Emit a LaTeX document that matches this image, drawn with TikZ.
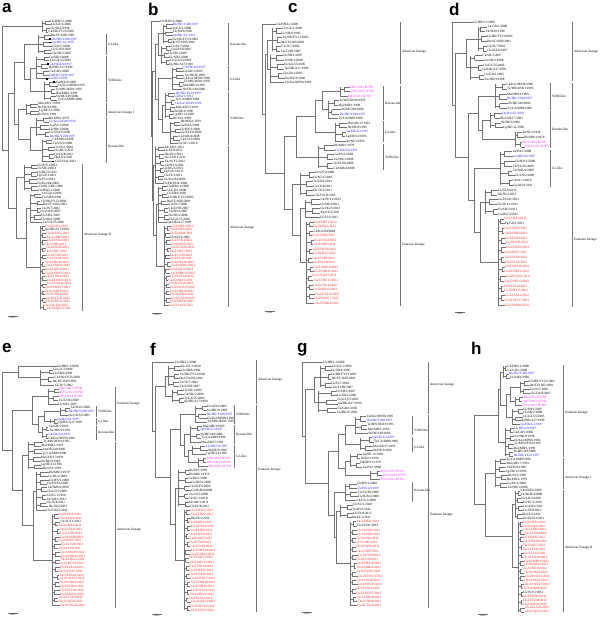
\documentclass[tikz,border=0pt]{standalone}
\usepackage{fontspec}
\setmainfont{Liberation Serif}
\newfontfamily\lettersf{Liberation Sans}
\usetikzlibrary{calc}

\definecolor{cK}{RGB}{0,0,0}
\definecolor{cB}{RGB}{40,40,225}
\definecolor{cR}{RGB}{245,35,35}
\definecolor{cM}{RGB}{235,45,235}
\definecolor{brgray}{RGB}{115,115,115}

\tikzset{
  br/.style={draw=brgray, line width=0.28pt},
  bar/.style={draw=brgray, line width=0.35pt},
  leaf/.style={anchor=west, inner sep=0.25pt, font=\fontsize{3.3}{3.5}\selectfont},
  clab/.style={anchor=west, inner sep=0.3pt, font=\fontsize{3.4}{4}\selectfont},
  plab/.style={anchor=north west, inner sep=0pt, font=\fontsize{17}{17}\selectfont\lettersf\bfseries},
  sqmark/.style={fill=black, minimum size=1.8pt, inner sep=0pt, draw=none},
}

% strain names, one pool for each label colour
\newcount\nK \newcount\nB \newcount\nR \newcount\nM
\def\sizeK{40} \def\sizeB{6} \def\sizeR{26} \def\sizeM{3}
\def\nameK#1{\ifcase#1\relax Ck/HB/L1/2000\or Ck/GX/1/2000\or Ck/SD/6/1996\or Ck/HK/FY23/2003\or
  Dk/ST/1605/2001\or Ck/JS/7/2002\or Ck/ZJ/HJ/2007\or Ck/SH/1/2007\or Ck/SD/2/2008\or
  Ck/GX/55/2005\or Qa/HK/A17/1999\or Ck/GD/1/2005\or Sw/HK/9/1998\or Ck/Kor/MS96/1996\or
  Ty/MN/38391/1995\or Mal/MD/1/1999\or Sb/DE/249/2006\or Ty/CA/6889/1980\or Mal/AB/17/1991\or
  Sb/DE/9/1996\or Lg/DE/12/1996\or Rt/NJ/1/1999\or Dk/MN/1/1979\or Gs/PA/1/2000\or
  Ck/HN/1/2008\or Ck/SX/F6/2009\or Ck/HeB/4/2008\or Ck/LN/2/2000\or Ck/SC/1/2010\or
  Ck/AH/1/2011\or Ck/JX/8/2012\or Dk/JX/2/2011\or Ck/ZJ/611/2011\or Ck/JS/Y1/2012\or
  Ck/SH/3/2011\or Ck/DG/3/2012\or Pg/GX/1/2011\or Ck/FJ/2/2012\or Ck/Kor/04/2004\or
  Ck/PK/UDL/2006\fi}
\def\nameB#1{\ifcase#1\relax Dk/HK/Y280/1997\or Qa/HK/G1/1997\or Ck/HK/G9/1997\or
  Dk/HK/Y439/1997\or Ck/BJ/1/1994\or Ck/Kor/38349/1996\fi}
\def\nameM#1{\ifcase#1\relax SH/1/2013 H7N9\or AH/1/2013 H7N9\or SH/2/2013 H7N9\fi}
\def\nameR#1{\ifcase#1\relax Ck/ZJ/HZ1/2012\or Ck/ZJ/HZ2/2012\or Ck/ZJ/NB3/2011\or
  Ck/ZJ/SX4/2012\or Ck/ZJ/JH5/2012\or Ck/ZJ/WZ6/2011\or Ck/ZJ/HZ7/2012\or Ck/ZJ/TZ8/2012\or
  Ck/ZJ/LS9/2011\or Ck/ZJ/HZ10/2012\or Ck/ZJ/NB11/2012\or Ck/ZJ/QZ12/2011\or Ck/ZJ/HU13/2012\or
  Ck/ZJ/JX14/2012\or Ck/ZJ/HZ15/2011\or Ck/ZJ/SX16/2012\or Ck/ZJ/WZ17/2012\or Ck/ZJ/NB18/2012\or
  Ck/ZJ/JH19/2011\or Ck/ZJ/TZ20/2012\or Ck/ZJ/HZ21/2012\or Ck/ZJ/LS22/2012\or Ck/ZJ/QZ23/2011\or
  Ck/ZJ/HU24/2012\or Ck/ZJ/JX25/2012\or Ck/ZJ/HZ26/2012\fi}
\newcommand{\newpanel}[1]{\def\rowgap{#1}\global\nK=0 \global\nB=0 \global\nR=0 \global\nM=0 }

% one leaf: name, x, y, colour code
\newcommand{\leaf}[4]{%
  \pgfmathtruncatemacro\ix{mod(\the\csname n#4\endcsname,\csname size#4\endcsname)}%
  \node[leaf,text=c#4] (#1) at (#2,#3) {\csname name#4\endcsname{\ix}};%
  \global\advance\csname n#4\endcsname by 1\relax}

% one clade: name, root x, tip x, top y, leaves, colour, other colour, leaves in other colour
\newcommand{\clade}[8]{%
  \coordinate (#1) at (#2,{#4+(#5-1)*\rowgap/2});
  \draw[br] (#2,#4) -- (#2,{#4+(#5-1)*\rowgap});
  \foreach \k in {1,...,#5}{
    \gdef\lc{#6}%
    \foreach \ai in {#8}{\ifnum\ai=\k\relax\gdef\lc{#7}\fi}%
    \pgfmathsetmacro\yy{#4+(\k-1)*\rowgap}
    \pgfmathsetmacro\tx{#3+3*rnd}
    \leaf{#1-\k}{\tx}{\yy}{\lc}
    \ifodd\k\relax
      \ifnum\k=#5\relax \draw[br] (#2,\yy) -- (#1-\k.west); \fi
    \else
      \pgfmathtruncatemacro\kp{\k-1}
      \pgfmathsetmacro\cxx{#2+(0.35+0.45*rnd)*(#3-#2)}
      \pgfmathsetmacro\yp{\yy-\rowgap}
      \draw[br] (#2,{\yy-\rowgap/2}) -- (\cxx,{\yy-\rowgap/2});
      \draw[br] (\cxx,\yp) -- (\cxx,\yy);
      \draw[br] (\cxx,\yp) -- (#1-\kp.west);
      \draw[br] (\cxx,\yy) -- (#1-\k.west);
    \fi
  }}

% inner node: name, x, child 1, child 2
\newcommand{\fork}[4]{%
  \path (#3) -- (#4) coordinate[pos=0.5] (#1-m);
  \path let \p1=(#1-m) in coordinate (#1) at (#2pt,\y1);
  \draw[br] (#1) |- (#3);
  \draw[br] (#1) |- (#4);}

% clade bar: name, x, y from, y to, label y, label
\newcommand{\clbar}[6]{%
  \draw[bar] (#2,#3) -- (#2,#4);
  \node[clab] (#1) at ({#2+1.5},#5) {#6};}

% scale bar: name, x, y
\newcommand{\sbar}[3]{%
  \draw[bar] (#2,#3) -- ({#2+10},#3);
  \node[clab, anchor=north, font=\fontsize{2.8}{3}\selectfont] (#1) at ({#2+5},{#3+0.5}) {0.01};}

\begin{document}
\begin{tikzpicture}[x=1pt, y=-1pt]
\pgfmathsetseed{11}
\fill[white] (0,0) rectangle (600,618);
\useasboundingbox (0,0) rectangle (600,618);

% panel letters
\foreach \p/\x/\y in {a/2/3, b/148/3, c/288/3, d/449/3, e/2/343, f/150/343, g/297/343, h/471/342}
  \node[plab] (l-\p) at (\x,\y) {\p};

% a
\newpanel{3.6}
\clade{a-g0}{42}{48}{21}{4}{K}{K}{0}
\clade{a-g1}{38}{50}{35.4}{6}{K}{B}{2,3}
\clade{a-g2a}{36}{47}{57}{7}{K}{B}{3,6,7}
\clade{a-g2b}{44}{55}{82.2}{6}{K}{K}{0}
\clade{a-g3}{26}{37}{103.8}{4}{K}{K}{0}
\clade{a-g4a}{36}{48}{118.2}{6}{K}{B}{2,6}
\clade{a-g4b}{42}{52}{139.8}{7}{K}{K}{0}
\clade{a-g5a}{24}{36}{165}{8}{K}{K}{0}
\clade{a-g5b}{30}{40}{193.8}{9}{K}{K}{0}
\clade{a-g6}{40}{44}{226.2}{24}{R}{K}{2}
\fork{a-n1}{30}{a-g2a}{a-g2b}
\fork{a-n2}{24}{a-g1}{a-n1}
\fork{a-n3}{30}{a-g4a}{a-g4b}
\fork{a-n4}{18}{a-g3}{a-n3}
\fork{a-n5}{14}{a-n2}{a-n4}
\fork{a-n6}{26}{a-g5b}{a-g6}
\fork{a-n7}{16}{a-g5a}{a-n6}
\fork{a-n8}{8}{a-n5}{a-n7}
\fork{a-n9}{2}{a-g0}{a-n8}
\foreach \q [count=\i] in {a-g1-2,a-g1-3,a-g2a-3,a-g2a-7,a-g2b-1,a-g4b-7}
  \node[sqmark, anchor=east] (a-q\i) at ([xshift=-0.4pt]\q.west) {};
\clbar{a-c1}{106}{34}{55}{44}{G1-like}
\clbar{a-c2}{106}{56.5}{102}{80}{Y280-like}
\clbar{a-c3}{106}{103}{117}{113}{American lineage I}
\clbar{a-c4}{106}{118}{163}{146}{Korean-like}
\clbar{a-c5}{82}{164}{311}{235}{American lineage II}
\sbar{a-s}{8}{316}

% b
\newpanel{3.6}
\clade{b-g0}{154}{160}{21}{1}{K}{K}{0}
\clade{b-g1a}{163}{170}{24.6}{6}{K}{B}{1,4}
\clade{b-g1b}{161}{168}{46.2}{6}{K}{K}{0}
\clade{b-g2}{172}{182}{67.8}{7}{K}{B}{1}
\clade{b-g3a}{165}{173}{93}{8}{K}{B}{1,2,4}
\clade{b-g3b}{170}{178}{121.8}{7}{K}{K}{0}
\clade{b-g4a}{155}{162}{147}{11}{K}{K}{0}
\clade{b-g4b}{158}{166}{186.6}{11}{K}{K}{0}
\clade{b-g5}{164}{168}{226.2}{23}{R}{K}{4}
\fork{b-n1}{158}{b-g1a}{b-g1b}
\fork{b-n2}{162}{b-g3a}{b-g3b}
\fork{b-n3}{158}{b-g2}{b-n2}
\fork{b-n4}{155}{b-n1}{b-n3}
\fork{b-n5}{156}{b-g4b}{b-g5}
\fork{b-n6}{153}{b-g4a}{b-n5}
\fork{b-n7}{152}{b-n4}{b-n6}
\fork{b-n8}{151}{b-g0}{b-n7}
\clbar{b-c1}{228}{23}{65}{44}{Korean-like}
\clbar{b-c2}{228}{66}{91}{79}{G1-like}
\clbar{b-c3}{228}{92}{145}{118}{Y280-like}
\clbar{b-c4}{228}{146}{307}{228}{American lineage}
\sbar{b-s}{152}{313}

% c
\newpanel{4.5}
\clade{c-g0a}{268}{276}{24}{1}{K}{K}{0}
\clade{c-g0b}{272}{280}{28.5}{6}{K}{K}{0}
\clade{c-g0c}{270}{282}{55.5}{7}{K}{K}{0}
\clade{c-g1a}{340}{347}{87}{3}{M}{M}{0}
\clade{c-g1b}{328}{338}{100.5}{5}{K}{B}{4}
\clade{c-g2}{335}{345}{123}{5}{K}{B}{3}
\clade{c-g3}{318}{332}{145.5}{6}{K}{B}{2}
\clade{c-g4a}{300}{312}{172.5}{6}{K}{K}{0}
\clade{c-g4b}{305}{318}{199.5}{5}{K}{K}{0}
\clade{c-g5}{306}{312}{222}{19}{R}{K}{3}
\fork{c-n1}{322}{c-g1a}{c-g1b}
\fork{c-n2}{315}{c-n1}{c-g2}
\fork{c-n3}{296}{c-n2}{c-g3}
\fork{c-n4}{300}{c-g4b}{c-g5}
\fork{c-n5}{292}{c-g4a}{c-n4}
\fork{c-n6}{284}{c-n3}{c-n5}
\fork{c-n7}{267}{c-g0b}{c-g0c}
\fork{c-n8}{265}{c-n7}{c-n6}
\fork{c-n9}{262}{c-g0a}{c-n8}
\clbar{c-c1}{383}{86}{120}{103}{Korean-like}
\clbar{c-c2}{383}{121}{142}{132}{G1-like}
\clbar{c-c3}{383}{144}{170}{157}{Y280-like}
\clbar{c-c4}{400}{22}{84}{52}{American lineage}
\clbar{c-c5}{400}{86}{306}{245}{Eurasian lineage}
\sbar{c-s}{265}{311}

% d
\newpanel{4.8}
\clade{d-g0a}{460}{472}{22}{1}{K}{K}{0}
\clade{d-g0b}{478}{485}{26.8}{6}{K}{K}{0}
\clade{d-g0c}{470}{482}{55.6}{6}{K}{K}{0}
\clade{d-g1}{495}{505}{84.4}{6}{K}{B}{4}
\clade{d-g2a}{490}{500}{113.2}{4}{K}{B}{1}
\clade{d-g2b}{515}{522}{132.4}{4}{K}{M}{3,4}
\clade{d-g3}{500}{512}{151.6}{8}{K}{B}{2}
\clade{d-g4}{485}{495}{190}{6}{K}{K}{0}
\clade{d-g5}{498}{503}{218.8}{19}{R}{K}{2}
\fork{d-n1}{482}{d-g2a}{d-g2b}
\fork{d-n2}{478}{d-g1}{d-n1}
\fork{d-n3}{480}{d-g4}{d-g5}
\fork{d-n4}{474}{d-g3}{d-n3}
\fork{d-n5}{468}{d-n2}{d-n4}
\fork{d-n6}{466}{d-g0b}{d-g0c}
\fork{d-n7}{455}{d-n6}{d-n5}
\fork{d-n8}{452}{d-g0a}{d-n7}
\clbar{d-c1}{550}{83}{110}{96}{Y280-like}
\clbar{d-c2}{550}{111}{148}{129}{Korean-like}
\clbar{d-c3}{550}{150}{187}{168}{G1-like}
\clbar{d-c4}{572}{22}{81}{52}{American lineage}
\clbar{d-c5}{572}{83}{307}{240}{Eurasian lineage}
\sbar{d-s}{455}{312}

% e
\newpanel{3.8}
\clade{e-g0a}{30}{55}{366}{1}{K}{K}{0}
\clade{e-g0b}{40}{52}{369.8}{5}{K}{K}{0}
\clade{e-g1}{48}{57}{388.8}{5}{M}{K}{4,5}
\clade{e-g2}{60}{68}{407.8}{3}{K}{B}{2}
\clade{e-g3}{50}{56}{419.2}{2}{K}{B}{1}
\clade{e-g4}{42}{48}{426.8}{4}{K}{B}{3}
\clade{e-g5a}{28}{40}{442}{8}{K}{K}{0}
\clade{e-g5b}{36}{46}{472.4}{11}{K}{K}{0}
\clade{e-g6}{52}{58}{514.2}{25}{R}{K}{3}
\fork{e-n1}{44}{e-g2}{e-g3}
\fork{e-n2}{38}{e-n1}{e-g4}
\fork{e-n3}{32}{e-g1}{e-n2}
\fork{e-n4}{33}{e-g5b}{e-g6}
\fork{e-n5}{22}{e-g5a}{e-n4}
\fork{e-n6}{12}{e-n3}{e-n5}
\fork{e-n7}{18}{e-g0a}{e-g0b}
\fork{e-n8}{2}{e-n7}{e-n6}
\clbar{e-c1}{96}{406}{417}{411.6}{Y280-like}
\clbar{e-c2}{96}{418}{424.5}{421}{G1-like}
\clbar{e-c3}{96}{425.5}{440}{432.5}{Korean-like}
\clbar{e-c4}{115}{387}{441}{404}{Eurasian lineage}
\clbar{e-c5}{115}{442}{608}{530}{American lineage}
\sbar{e-s}{8}{613}

% f
\newpanel{4.0}
\clade{f-g0a}{160}{172}{362}{1}{K}{K}{0}
\clade{f-g0b}{168}{178}{366}{6}{K}{K}{0}
\clade{f-g0c}{172}{182}{390}{4}{K}{K}{0}
\clade{f-g1}{195}{205}{406}{5}{K}{B}{3}
\clade{f-g2}{190}{200}{426}{5}{K}{B}{2}
\clade{f-g3}{192}{205}{446}{3}{K}{B}{1}
\clade{f-g3m}{198}{206}{458}{3}{M}{M}{0}
\clade{f-g4}{178}{188}{470}{10}{K}{K}{0}
\clade{f-g5}{184}{188}{510}{26}{R}{K}{3}
\fork{f-n1}{188}{f-g3}{f-g3m}
\fork{f-n2}{184}{f-g2}{f-n1}
\fork{f-n3}{180}{f-g1}{f-n2}
\fork{f-n4}{175}{f-g4}{f-g5}
\fork{f-n5}{170}{f-n3}{f-n4}
\fork{f-n6}{165}{f-g0b}{f-g0c}
\fork{f-n7}{155}{f-n6}{f-n5}
\fork{f-n8}{152}{f-g0a}{f-n7}
\clbar{f-c1}{234}{405}{424}{414}{Y280-like}
\clbar{f-c2}{234}{425}{444}{434}{Korean-like}
\clbar{f-c3}{234}{445}{468}{456}{G1-like}
\clbar{f-c4}{256}{360}{404}{380}{American lineage}
\clbar{f-c5}{256}{405}{612}{470}{Eurasian lineage}
\sbar{f-s}{152}{614}

% g
\newpanel{4.2}
\clade{g-g0a}{312}{322}{362}{1}{K}{K}{0}
\clade{g-g0b}{320}{330}{366.2}{6}{K}{K}{0}
\clade{g-g0c}{318}{335}{391.4}{6}{K}{K}{0}
\clade{g-g1}{355}{365}{416.6}{5}{K}{B}{2}
\clade{g-g2}{360}{372}{437.6}{4}{K}{B}{1}
\clade{g-g3}{350}{360}{454.4}{4}{K}{K}{0}
\clade{g-g4}{370}{380}{471.2}{3}{M}{M}{0}
\clade{g-g5}{345}{356}{483.8}{5}{K}{B}{2}
\clade{g-g6}{340}{350}{504.8}{4}{K}{K}{0}
\clade{g-g7}{350}{355}{521.6}{21}{R}{K}{2}
\fork{g-n1}{345}{g-g1}{g-g2}
\fork{g-n2}{345}{g-g3}{g-g4}
\fork{g-n3}{338}{g-n1}{g-n2}
\fork{g-n4}{336}{g-g6}{g-g7}
\fork{g-n5}{334}{g-g5}{g-n4}
\fork{g-n6}{328}{g-n3}{g-n5}
\fork{g-n7}{314}{g-g0b}{g-g0c}
\fork{g-n8}{305}{g-n7}{g-n6}
\fork{g-n9}{302}{g-g0a}{g-n8}
\clbar{g-c1}{412}{416}{435}{430}{Y280-like}
\clbar{g-c2}{412}{437}{452}{447}{G1-like}
\clbar{g-c3}{412}{482}{502}{490}{Korean-like}
\clbar{g-c4}{428}{362}{414}{385}{American lineage}
\clbar{g-c5}{428}{415}{608}{515}{Eurasian lineage}
\sbar{g-s}{302}{612}

% h
\newpanel{3.9}
\clade{h-g1}{503}{507}{366}{4}{K}{B}{3}
\clade{h-g2}{520}{528}{381.6}{4}{K}{K}{0}
\clade{h-g3}{515}{520}{397.2}{3}{M}{M}{0}
\clade{h-g4}{512}{520}{408.9}{5}{K}{B}{5}
\clade{h-g5}{505}{512}{428.4}{8}{K}{B}{1,8}
\clade{h-g6}{495}{505}{459.6}{8}{K}{K}{0}
\clade{h-g7}{515}{520}{490.8}{8}{K}{K}{0}
\clade{h-g8}{518}{522}{522}{24}{R}{K}{19}
\fork{h-n1}{510}{h-g2}{h-g3}
\fork{h-n2}{506}{h-n1}{h-g4}
\fork{h-n3}{500}{h-g1}{h-n2}
\fork{h-n4}{498}{h-n3}{h-g5}
\fork{h-n5}{512}{h-g7}{h-g8}
\fork{h-n6}{485}{h-g6}{h-n5}
\fork{h-n7}{474}{h-n4}{h-n6}
\clbar{h-c1}{563}{365}{457}{413}{Eurasian lineage}
\clbar{h-c2}{563}{458}{489}{478}{American lineage I}
\clbar{h-c3}{563}{490}{612}{548}{American lineage II}
\sbar{h-s}{478}{614}
\end{tikzpicture}
\end{document}
